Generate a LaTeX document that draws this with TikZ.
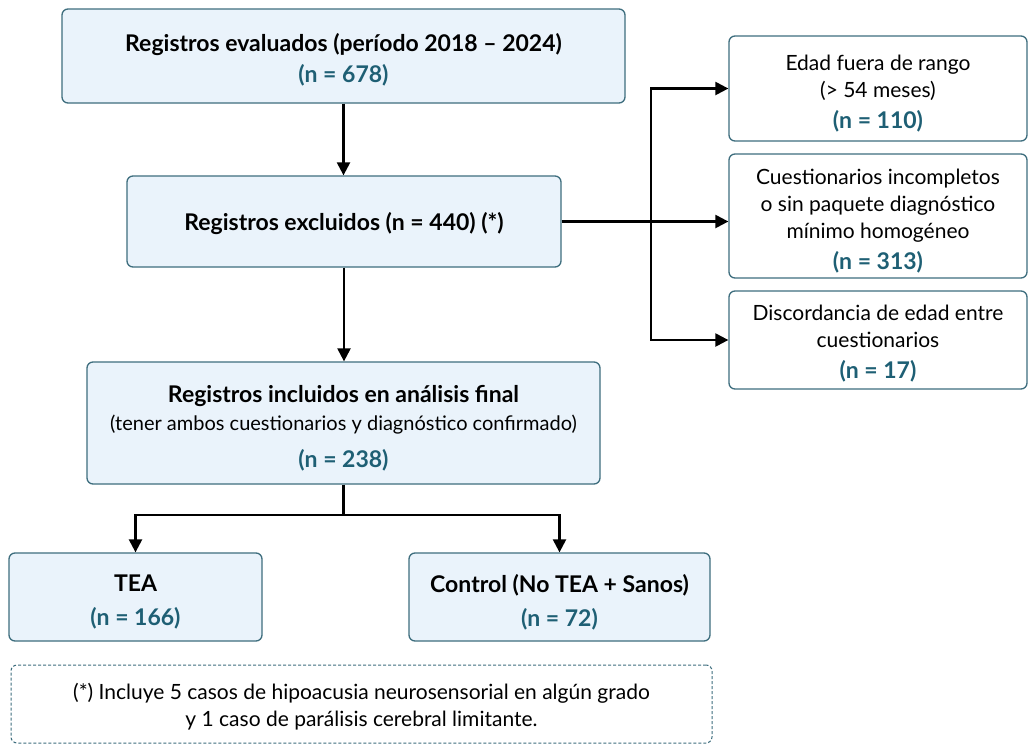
\documentclass[tikz,border=0pt]{standalone}
\usepackage{fontspec}
\setmainfont{Lato}
\usetikzlibrary{arrows.meta}
\definecolor{boxfill}{HTML}{EAF3FB}
\definecolor{boxline}{HTML}{3E6E7E}
\definecolor{nteal}{HTML}{1E5F74}
\newcommand{\nv}[1]{{\fontsize{23}{31}\selectfont\bfseries\color{nteal}#1}}
\begin{document}
\begin{tikzpicture}[x=1pt,y=-1pt,
  box/.style={draw=boxline, line width=1.3pt, rounded corners=6pt, fill=boxfill, inner sep=0pt},
  rbox/.style={box, fill=white},
  ttxt/.style={align=center, inner sep=0pt, font={\fontsize{23}{31}\selectfont\bfseries}},
  rtxt/.style={align=center, inner sep=0pt, font={\fontsize{21}{27}\selectfont}},
  note/.style={draw=boxline, line width=1pt, dash pattern=on 3pt off 2pt, rounded corners=6pt, inner sep=0pt},
  arr/.style={line width=2.3pt, -{Triangle[length=13pt,width=13pt]}},
  ln/.style={line width=2.3pt}]
\useasboundingbox (0,0) rectangle (1029,745);
\fill[white] (0,0) rectangle (1029,745);

% boxes
\node[box, minimum width=563pt, minimum height=94pt] (eval) at (343.5,56) {};
\node[box, minimum width=434pt, minimum height=91pt] (excl) at (344,221.5) {};
\node[box, minimum width=513pt, minimum height=122pt] (incl) at (343.5,423) {};
\node[box, minimum width=253pt, minimum height=88pt] (tea) at (135.5,597) {};
\node[box, minimum width=301pt, minimum height=88pt] (ctrl) at (559.5,597) {};
\node[note, minimum width=701pt, minimum height=78pt] (note) at (361.5,704) {};
\node[rbox, minimum width=298pt, minimum height=105pt] (r1) at (878,88.5) {};
\node[rbox, minimum width=298pt, minimum height=124pt] (r2) at (878,216) {};
\node[rbox, minimum width=298pt, minimum height=98pt] (r3) at (878,340) {};

% texts
\node[ttxt] (evalt) at ([yshift=-4pt]eval.center)
  {Registros evaluados (período 2018 – 2024)\\ \nv{(n = 678)}};
\node[ttxt] (exclt) at ([yshift=-2pt]excl.center)
  {Registros excluidos (n = 440) (*)};
\node[ttxt] (inclt) at ([yshift=-5pt]incl.center)
  {Registros incluidos en análisis final\\[-3pt]
   {\fontsize{20}{26}\selectfont\mdseries (tener ambos cuestionarios y diagnóstico confirmado)}\\[6pt]
   \nv{(n = 238)}};
\node[ttxt] (teat) at ([yshift=-5pt]tea.center)
  {TEA\\[3pt] \nv{(n = 166)}};
\node[ttxt] (ctrlt) at ([yshift=-5pt]ctrl.center)
  {Control (No TEA + Sanos)\\[3pt] \nv{(n = 72)}};
\node[rtxt, font={\fontsize{21}{27}\selectfont}] (notet) at ([yshift=-2.5pt]note.center)
  {(*) Incluye 5 casos de hipoacusia neurosensorial en algún grado\\ y 1 caso de parálisis cerebral limitante.};
\node[rtxt] (r1t) at ([yshift=-5pt]r1.center)
  {Edad fuera de rango\\ (> 54 meses)\\[4pt] \nv{(n = 110)}};
\node[rtxt] (r2t) at ([yshift=-5pt]r2.center)
  {Cuestionarios incompletos\\ o sin paquete diagnóstico\\ mínimo homogéneo\\[4pt] \nv{(n = 313)}};
\node[rtxt] (r3t) at ([yshift=-4pt]r3.center)
  {Discordancia de edad entre\\ cuestionarios\\[4pt] \nv{(n = 17)}};

% connectors
\draw[arr] (eval.south) -- (eval.south |- excl.north);
\draw[arr] (excl.south) -- (excl.south |- incl.north);
\draw[arr] (excl.east) -- (excl.east -| r2.west);
\coordinate (vb) at (651,221.5);
\draw[arr] (vb) |- (r1.west);
\draw[arr] (vb) |- (r3.west);
\coordinate (split) at (343.5,515);
\draw[ln] (incl.south) -- (split);
\draw[arr] (split) -| (tea.north);
\draw[arr] (split) -| (ctrl.north);
\end{tikzpicture}
\end{document}
